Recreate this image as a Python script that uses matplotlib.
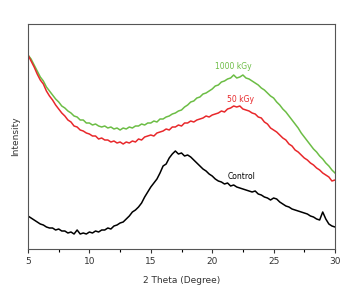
#!/usr/bin/python3

# XRD patterns: control vs irradiated samples

import numpy as np
import matplotlib
matplotlib.use('Agg')
import matplotlib.pyplot as plt
from matplotlib.ticker import MultipleLocator

# 2 theta sampled every 0.25 degree, 5 .. 30
two_theta = np.linspace(5, 30, 101)

control = [33, 31, 29, 27, 25, 24, 22, 21, 21, 19, 20, 18,
           18, 16, 17, 15, 19, 15, 16, 15, 17, 16, 18, 17,
           19, 19, 21, 20, 23, 24, 26, 27, 30, 33, 37, 39,
           42, 46, 52, 57, 62, 66, 70, 76, 83, 85, 91, 95,
           98, 95, 96, 93, 94, 92, 89, 86, 83, 80, 78, 75,
           73, 70, 68, 67, 65, 66, 63, 64, 62, 61, 60, 59,
           58, 57, 58, 55, 54, 52, 51, 49, 51, 50, 47, 45,
           43, 42, 40, 39, 38, 37, 36, 35, 33, 32, 30, 29,
           37, 30, 25, 23, 22]

kgy_50 = [194, 188, 182, 175, 169, 165, 158, 153, 149, 144, 140, 136,
          133, 129, 127, 123, 122, 119, 118, 116, 115, 113, 113, 110,
          111, 109, 109, 107, 108, 106, 107, 105, 107, 106, 108, 107,
          110, 109, 112, 113, 114, 113, 116, 117, 118, 120, 119, 122,
          122, 124, 123, 126, 126, 128, 127, 129, 130, 131, 133, 132,
          134, 135, 136, 138, 137, 140, 141, 143, 142, 143, 140, 139,
          138, 136, 135, 132, 131, 127, 125, 121, 119, 117, 114, 111,
          109, 105, 103, 99, 97, 94, 91, 89, 86, 84, 81, 79,
          76, 74, 72, 68, 69]

kgy_1000 = [194, 190, 184, 178, 172, 168, 162, 158, 154, 150, 147, 143,
            141, 138, 136, 133, 132, 129, 129, 126, 126, 124, 125, 123,
            122, 123, 121, 122, 120, 121, 119, 121, 120, 122, 121, 123,
            123, 125, 124, 126, 126, 128, 127, 130, 130, 132, 133, 135,
            136, 138, 139, 142, 144, 147, 148, 151, 152, 155, 156, 158,
            160, 163, 164, 167, 168, 170, 171, 174, 171, 172, 174, 171,
            170, 168, 166, 164, 161, 159, 156, 153, 151, 147, 144, 140,
            137, 133, 129, 125, 121, 116, 112, 108, 104, 100, 97, 93,
            90, 86, 83, 79, 76]

green = '#6cbd45'
red = '#e8282b'

fig = plt.figure(figsize=(3.45, 2.86), dpi=100)
ax = fig.add_axes([28 / 345, 1 - 249 / 286, 307 / 345, 225 / 286])

ax.plot(two_theta, kgy_1000, color=green, lw=1.1)
ax.plot(two_theta, kgy_50, color=red, lw=1.1)
ax.plot(two_theta, control, color='black', lw=1.1)

ax.text(21.7, 180, '1000 kGy', color=green, fontsize=5.5, ha='center')
ax.text(22.3, 147, '50 kGy', color=red, fontsize=5.5, ha='center')
ax.text(22.4, 70, 'Control', color='black', fontsize=5.5, ha='center')

ax.set_xlim(5, 30)
ax.set_ylim(0, 225)
ax.xaxis.set_major_locator(MultipleLocator(5))
ax.xaxis.set_minor_locator(MultipleLocator(2.5))
ax.tick_params(axis='x', which='major', direction='out', length=3,
               width=0.8, labelsize=6.5, pad=3, colors='#333333')
ax.tick_params(axis='x', which='minor', direction='out', length=2,
               width=0.8)
ax.set_yticks([])
for s in ax.spines.values():
    s.set_color('#555555')
    s.set_linewidth(0.8)

ax.set_xlabel('2 Theta (Degree)', fontsize=6.5, color='#333333', labelpad=7)
ax.set_ylabel('Intensity', fontsize=6.5, color='#333333', labelpad=6)

fig.savefig('out.png', dpi=100)
